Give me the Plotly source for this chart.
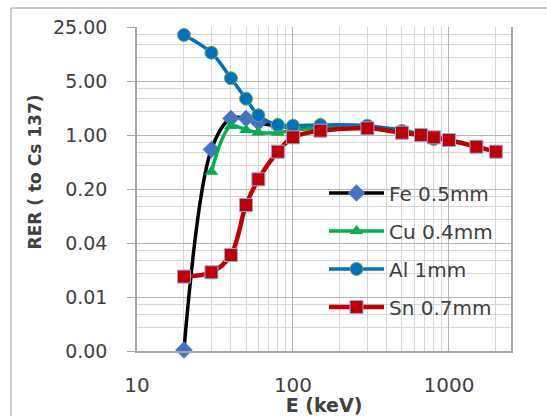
import plotly.graph_objects as go

# ---- data ----
fe_E = [20, 30, 40, 50, 60, 80, 100, 150]
fe_R = [0.00165, 0.65, 1.64, 1.64, 1.45, 1.30, 1.27, 1.30]

cu_E = [30, 40, 50, 60, 80, 100, 150, 300, 500, 800]
cu_R = [0.335, 1.31, 1.16, 1.08, 1.07, 1.16, 1.23, 1.26, 1.17, 0.89]

al_E = [20, 30, 40, 50, 60, 80, 100, 150, 300, 500, 800]
al_R = [19.7, 11.6, 5.43, 2.95, 1.80, 1.35, 1.32, 1.35, 1.32, 1.13, 0.89]

sn_E = [20, 30, 40, 50, 60, 80, 100, 150, 300, 500, 662, 800, 1000, 1500, 2000]
sn_R = [0.0147, 0.0167, 0.028, 0.124, 0.267, 0.608, 0.933, 1.137, 1.22, 1.07,
        1.00, 0.933, 0.861, 0.705, 0.608]

y_tickvals = [5 ** k for k in range(-4, 3)]
y_ticktext = ["0.00", "0.01", "0.04", "0.20", "1.00", "5.00", "25.00"]
y_minor = [m * 5 ** k for k in range(-4, 2) for m in (2, 3, 4)]
x_tickvals = [10, 100, 1000]
x_ticktext = ["10", "100", "1000"]
x_minor = [m * 10 ** k for k in (1, 2) for m in range(2, 10)] + [2000]

FONT = "DejaVu Sans"
TXT = "#404040"

fig = go.Figure()

fig.add_trace(go.Scatter(
    x=fe_E, y=fe_R, name="Fe 0.5mm", mode="lines+markers", legendgroup="fe",
    line=dict(color="black", width=3.5, shape="spline", smoothing=1),
    marker=dict(symbol="diamond", size=13, color="#4472C4",
                line=dict(color="#5B7FD0", width=0.5)),
    cliponaxis=False))
fig.add_trace(go.Scatter(
    x=cu_E, y=cu_R, name="Cu 0.4mm", mode="lines+markers", legendgroup="cu",
    line=dict(color="#00B050", width=3.5, shape="spline", smoothing=1),
    marker=dict(symbol="triangle-up", size=12, color="#00B050")))
fig.add_trace(go.Scatter(
    x=al_E, y=al_R, name="Al 1mm", mode="lines+markers", legendgroup="al",
    line=dict(color="#0070C0", width=3.5, shape="spline", smoothing=1),
    marker=dict(symbol="circle", size=13, color="#0070C0",
                line=dict(color="#70AD47", width=1))))
fig.add_trace(go.Scatter(
    x=sn_E, y=sn_R, name="Sn 0.7mm", mode="lines+markers", legendgroup="sn",
    line=dict(color="#C00000", width=4.5, shape="spline", smoothing=1),
    marker=dict(symbol="square", size=13, color="#C00000",
                line=dict(color="#8EA9DB", width=1))))

fig.update_layout(
    width=547, height=416,
    margin=dict(l=137, r=36, t=27, b=65, autoexpand=False),
    paper_bgcolor="white", plot_bgcolor="white",
    font=dict(family=FONT, color=TXT),
    showlegend=True,
    legend=dict(x=0.5, y=0.548, xanchor="left", yanchor="top",
                bgcolor="rgba(0,0,0,0)", font=dict(family=FONT, size=20, color=TXT),
                tracegroupgap=9, itemwidth=55),
    xaxis=dict(type="log", range=[1, 3.39794], automargin=False,
               tickmode="array", tickvals=x_tickvals, ticktext=x_ticktext,
               tickfont=dict(family=FONT, size=20, color=TXT),
               ticks="", ticklabelstandoff=15,
               showgrid=True, gridcolor="#B4B4B4", gridwidth=1.3,
               minor=dict(tickmode="array", tickvals=x_minor, showgrid=True,
                          gridcolor="#D6D6D6", gridwidth=1, ticks=""),
               showline=True, linecolor="#A6A6A6", linewidth=1.5,
               zeroline=False,
               title=dict(text="<b>E (keV)</b>", standoff=10,
                          font=dict(family=FONT, size=19, color=TXT))),
    yaxis=dict(type="log", range=[-2.79588, 1.39794], automargin=False,
               tickmode="array", tickvals=y_tickvals, ticktext=y_ticktext,
               tickfont=dict(family=FONT, size=19, color=TXT),
               ticks="outside", ticklen=8, tickcolor="#A6A6A6",
               ticklabelstandoff=16,
               showgrid=True, gridcolor="#B4B4B4", gridwidth=1.3,
               minor=dict(tickmode="array", tickvals=y_minor, showgrid=True,
                          gridcolor="#D6D6D6", gridwidth=1, ticks=""),
               showline=True, linecolor="#A6A6A6", linewidth=1.5, mirror=True,
               zeroline=False),
    annotations=[dict(text="<b>RER ( to Cs 137)</b>", xref="paper", yref="paper",
                      x=-0.273, y=0.554, xanchor="center", yanchor="middle",
                      textangle=-90, showarrow=False,
                      font=dict(family=FONT, size=17, color=TXT))],
    shapes=[dict(type="rect", xref="paper", yref="paper",
                 x0=-0.337, x1=1.3, y0=-0.5, y1=1.0586,
                 line=dict(color="#9A9A9A", width=1), fillcolor="rgba(0,0,0,0)",
                 layer="below")],
)

fig.write_html("out.html")
